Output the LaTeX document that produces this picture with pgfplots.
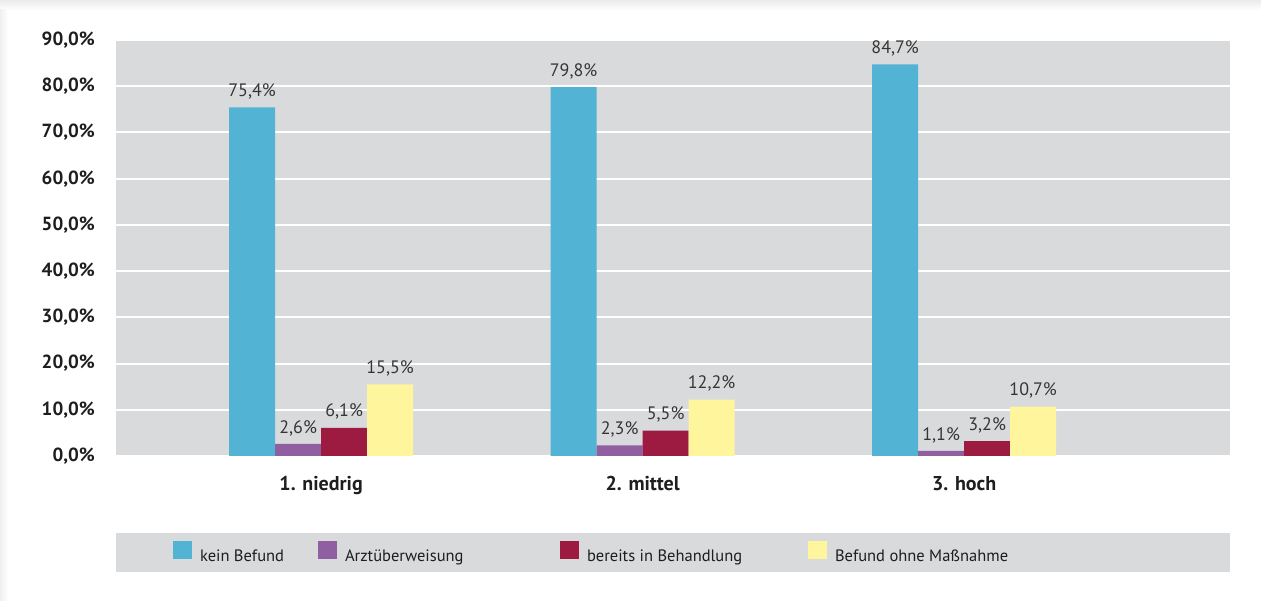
\documentclass[border=0pt]{standalone}
\usepackage{fontspec}
\setmainfont{PT Sans}
\usepackage{pgfplots}
\pgfplotsset{compat=1.18}

\definecolor{cblue}{HTML}{52B3D5}
\definecolor{cpurple}{HTML}{905FA1}
\definecolor{cred}{HTML}{9D1B40}
\definecolor{cyellow}{HTML}{FFF59C}
\definecolor{panel}{HTML}{D9DADC}
\definecolor{txt}{HTML}{1E1E1E}

\begin{document}
\begin{tikzpicture}[x=1bp,y=1bp]
  % page frame
  \fill[white] (0,0) rectangle (1261,601);
  \useasboundingbox (0,0) rectangle (1261,601);
  \shade[top color=black!8, bottom color=white] (0,591) rectangle (1261,601);
  \shade[left color=black!6, right color=white] (0,0) rectangle (8,591);
  % legend band
  \fill[panel] (116,29) rectangle (1230,68);

  \begin{axis}[
    at={(116bp,145bp)}, anchor=south west,
    scale only axis, width=1114bp, height=416bp,
    /pgf/number format/assume math mode=true,
    ybar=0pt, bar width=46bp,
    xmin=-0.638, xmax=2.827,
    ymin=0, ymax=90,
    xtick={0,1,2},
    xticklabels={1. niedrig, 2. mittel, 3. hoch},
    ytick={0,10,...,90},
    yticklabel={\pgfmathprintnumber[fixed,fixed zerofill,precision=1,use comma]{\tick}\%},
    major tick length=0pt,
    axis line style={draw=none},
    axis background/.style={fill=panel},
    ymajorgrids, grid style={white, line width=2bp},
    yticklabel style={anchor=east, inner sep=0pt, xshift=-21bp,
      font=\fontsize{19bp}{22bp}\selectfont\bfseries, text=txt},
    xticklabel style={anchor=north, inner sep=0pt, yshift=-20bp,
      font=\fontsize{20bp}{23bp}\selectfont\bfseries, text=txt},
    nodes near coords={\pgfmathprintnumber[fixed,fixed zerofill,precision=1,use comma]{\pgfplotspointmeta}\%},
    every node near coord/.append style={anchor=south, inner sep=0pt, yshift=8bp,
      font=\fontsize{18bp}{21bp}\selectfont, text=txt!90},
    legend columns=4,
    legend cell align=left,
    legend image code/.code={\fill[#1] (0bp,-2bp) rectangle (19bp,16bp);},
    legend style={at={(axis description cs:0.0512,-0.2308)}, anchor=west,
      draw=none, fill=none, inner sep=0pt, outer sep=0pt,
      font=\fontsize{16.5bp}{19bp}\selectfont, text=txt,
      nodes={inner sep=0pt, outer sep=0pt},
      /tikz/every odd column/.style={column sep=8bp}},
  ]
    \addplot[fill=cblue, draw=none]   coordinates {(0,75.4) (1,79.8) (2,84.7)};
    \addplot[fill=cpurple, draw=none] coordinates {(0,2.6) (1,2.3) (2,1.1)};
    \addplot[fill=cred, draw=none]    coordinates {(0,6.1) (1,5.5) (2,3.2)};
    \addplot[fill=cyellow, draw=none] coordinates {(0,15.5) (1,12.2) (2,10.7)};
    \legend{\makebox[118bp][l]{kein Befund},
            \makebox[215bp][l]{Arztüberweisung},
            \makebox[221bp][l]{bereits in Behandlung},
            Befund ohne Maßnahme}
  \end{axis}
\end{tikzpicture}
\end{document}
